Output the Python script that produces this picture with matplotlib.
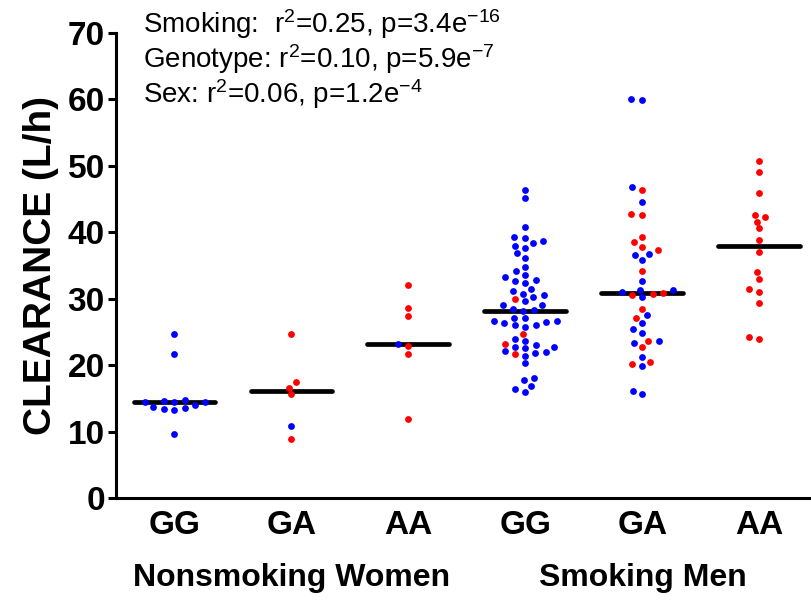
import numpy as np
import matplotlib
matplotlib.use('Agg')
import matplotlib.pyplot as plt

plt.rcParams['font.family'] = ['Liberation Sans', 'DejaVu Sans']
plt.rcParams['mathtext.default'] = 'regular'

# ---- data (clearance, L/h), split by dot colour ----
groups = ['GG', 'GA', 'AA', 'GG', 'GA', 'AA']
cohorts = ['Nonsmoking Women', 'Smoking Men']

gg_women_blue = [24.75, 21.7, 14.8, 14.6, 14.4, 14.4, 14.4, 14.0, 13.75, 13.5, 13.4, 13.2, 9.7]
gg_women_red = []
ga_women_blue = [10.8]
ga_women_red = [24.75, 17.4, 16.6, 15.6, 8.9]
aa_women_blue = [23.2]
aa_women_red = [32.1, 28.6, 27.4, 22.9, 21.7, 11.85]

gg_men_blue = [46.3, 45.2, 40.8, 39.3, 39.2, 38.7, 38.4, 38.0, 37.65, 36.85,
               36.2, 34.8, 34.1, 33.5, 33.2, 32.8, 32.7, 32.4, 31.4, 31.1,
               30.7, 30.5, 30.3, 29.6, 29.0, 29.0, 28.5, 28.3, 28.1, 27.1,
               27.1, 26.7, 26.7, 26.55, 26.4, 26.1, 26.05, 25.8, 23.9, 23.65,
               23.0, 22.8, 22.7, 22.6, 22.1, 22.0, 21.9, 21.4, 20.3, 18.0,
               17.7, 16.9, 16.4, 16.0]
gg_men_red = [30.0, 24.65, 23.25, 21.7]
ga_men_blue = [60.0, 59.9, 46.8, 44.5, 36.7, 36.65, 35.9, 32.7, 31.3, 31.3,
               31.0, 30.3, 27.5, 26.3, 25.4, 24.8, 23.6, 23.4, 21.2, 19.8,
               16.1, 15.6]
ga_men_red = [46.4, 42.7, 42.6, 39.3, 38.5, 37.85, 37.35, 34.2, 30.8, 30.7,
              30.5, 28.5, 27.15, 23.6, 22.7, 20.5, 20.1]
aa_men_blue = []
aa_men_red = [50.8, 49.1, 45.9, 42.6, 42.3, 41.6, 40.6, 38.8, 37.05, 34.0,
              33.0, 31.4, 31.0, 29.3, 24.25, 23.9]

blue_sets = [gg_women_blue, ga_women_blue, aa_women_blue, gg_men_blue, ga_men_blue, aa_men_blue]
red_sets = [gg_women_red, ga_women_red, aa_women_red, gg_men_red, ga_men_red, aa_men_red]

stats = ['Smoking:  r$^{2}$=0.25, p=3.4e$^{-16}$',
         'Genotype: r$^{2}$=0.10, p=5.9e$^{-7}$',
         'Sex: r$^{2}$=0.06, p=1.2e$^{-4}$']

BLUE = '#0000ff'
RED = '#ff0000'

fig = plt.figure(figsize=(8.12, 6.0), dpi=100)
ax = fig.add_axes([116 / 812, 102 / 600, 696 / 812, 465 / 600])
ax.set_xlim(-0.5, 5.45)
ax.set_ylim(0, 70)

# pixel scales, used only to lay the dots out as a swarm
px_x = 696 / 5.95
px_y = 465 / 70
wx, wy = 11.0, 6.8   # elliptical keep-out zone around each dot (px)


def swarm(vals):
    """Simple beeswarm: returns x offsets (data units) for each value."""
    vals = np.asarray(vals, dtype=float)
    order = np.argsort(vals)
    placed = []
    offs = np.zeros(len(vals))
    for i in order:
        y = vals[i] * px_y
        near = [(px, py) for px, py in placed if abs(py - y) < wy]
        cands = [0.0]
        for px, py in near:
            dx = wx * np.sqrt(1 - ((py - y) / wy) ** 2)
            cands += [px - dx, px + dx]
        cands.sort(key=abs)
        for c in cands:
            if all(((c - px) / wx) ** 2 + ((y - py) / wy) ** 2 >= 1 - 1e-6
                   for px, py in near):
                break
        placed.append((c, y))
        offs[i] = c / px_x
    return offs


for k, (blue, red) in enumerate(zip(blue_sets, red_sets)):
    vals = list(blue) + list(red)
    offs = swarm(vals)
    nb = len(blue)
    med = np.median(vals)
    ax.plot([k - 0.35, k + 0.35], [med, med], color='black', lw=3.4,
            solid_capstyle='round', zorder=2)
    if nb:
        ax.scatter(k + offs[:nb], blue, s=24, color=BLUE, lw=0, zorder=3)
    if len(red):
        ax.scatter(k + offs[nb:], red, s=24, color=RED, lw=0, zorder=4)

for s in ['top', 'right']:
    ax.spines[s].set_visible(False)
for s in ['left', 'bottom']:
    ax.spines[s].set_linewidth(2.2)

ax.set_yticks(np.arange(0, 71, 10))
ax.tick_params(axis='y', length=6, width=2.2, labelsize=24, pad=2)
for lab in ax.get_yticklabels():
    lab.set_fontweight('bold')
ax.set_xticks(range(len(groups)))
ax.set_xticklabels(groups, fontsize=24, fontweight='bold')
ax.tick_params(axis='x', length=0, pad=9)

ax.set_ylabel('CLEARANCE (L/h)', fontsize=28, fontweight='bold', labelpad=6)

ax.text(1, -0.172, cohorts[0], transform=ax.get_xaxis_transform(),
        ha='center', va='center', fontsize=23, fontweight='bold')
ax.text(4, -0.172, cohorts[1], transform=ax.get_xaxis_transform(),
        ha='center', va='center', fontsize=23, fontweight='bold')

for i, line in enumerate(stats):
    fig.text(143 / 812, 1 - (33 + 35 * i) / 600, line, fontsize=20,
             ha='left', va='baseline')

fig.savefig('out.png', dpi=100)
